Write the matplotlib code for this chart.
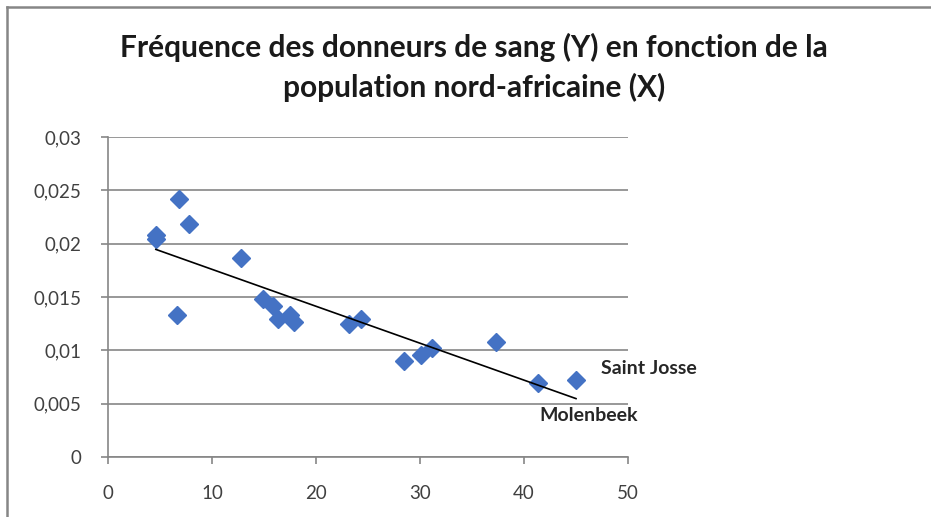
import matplotlib
matplotlib.use("Agg")
import matplotlib.pyplot as plt
import numpy as np
from matplotlib.lines import Line2D
from matplotlib.ticker import FuncFormatter

# Part de la population nord-africaine (X) et fréquence des donneurs (Y)
pop_na = [4.6, 4.6, 6.8, 7.8, 6.6, 12.8, 14.9, 15.9, 16.3, 17.5, 17.9,
          23.2, 24.3, 28.5, 30.1, 31.2, 37.3, 41.3, 45.0]
freq_donneurs = [0.0208, 0.0204, 0.0242, 0.0218, 0.0133, 0.0187, 0.0148,
                 0.0142, 0.0129, 0.0133, 0.0127, 0.0125, 0.0129, 0.0090,
                 0.0096, 0.0102, 0.0108, 0.0069, 0.0072]

x_ticks = [0, 10, 20, 30, 40, 50]
y_ticks = [0, 0.005, 0.01, 0.015, 0.02, 0.025, 0.03]
annotations = [("Saint Josse", 47.4, 0.0083), ("Molenbeek", 41.5, 0.0039)]

BLUE = "#4472C4"
GRID = "#868686"
TEXT = "#404040"

fig = plt.figure(figsize=(9.31, 5.17), dpi=100)
ax = fig.add_axes([108 / 931, 1 - 457 / 517, 520 / 931, 320 / 517])

ax.plot(pop_na, freq_donneurs, linestyle="none", marker="D", markersize=9.5,
        color=BLUE, zorder=3, clip_on=False)

# Courbe de tendance linéaire
slope, intercept = np.polyfit(pop_na, freq_donneurs, 1)
xs = np.array([min(pop_na), max(pop_na)])
ax.plot(xs, slope * xs + intercept, color="black", linewidth=1.2, zorder=4)

ax.set_xlim(0, 50)
ax.set_ylim(0, 0.03)
ax.set_xticks(x_ticks)
ax.set_yticks(y_ticks)
ax.xaxis.set_major_formatter(FuncFormatter(lambda v, p: f"{v:g}"))
ax.yaxis.set_major_formatter(FuncFormatter(lambda v, p: f"{v:g}".replace(".", ",")))
ax.grid(axis="y", color=GRID, linewidth=1.2)
ax.set_axisbelow(True)
for side in ["top", "right"]:
    ax.spines[side].set_visible(False)
for side in ["left", "bottom"]:
    ax.spines[side].set_color(GRID)
    ax.spines[side].set_linewidth(1.2)
ax.tick_params(colors=GRID, labelcolor=TEXT, length=5, width=1.2, labelsize=13.5)
for lab in ax.get_xticklabels() + ax.get_yticklabels():
    lab.set_family("Lato")
ax.tick_params(axis="x", pad=15)
ax.tick_params(axis="y", pad=14)

for name, x, y in annotations:
    ax.text(x, y, name, fontsize=14, fontweight="bold", family="Lato",
            color="#262626", ha="left", va="center")

fig.text(474 / 931, 1 - 67 / 517,
         "Fréquence des donneurs de sang (Y) en fonction de la\npopulation nord-africaine (X)",
         ha="center", va="center", fontsize=21.5, fontweight="bold", family="Lato",
         color="#1a1a1a", linespacing=1.45)

# Cadre du graphique (coin haut-gauche visible)
fig.add_artist(Line2D([7 / 931, 7 / 931], [0, 1 - 7 / 517], transform=fig.transFigure,
                      color=GRID, linewidth=1.8))
fig.add_artist(Line2D([7 / 931, 1], [1 - 7 / 517, 1 - 7 / 517], transform=fig.transFigure,
                      color=GRID, linewidth=1.8))

fig.savefig("out.png", dpi=100, facecolor="white")
